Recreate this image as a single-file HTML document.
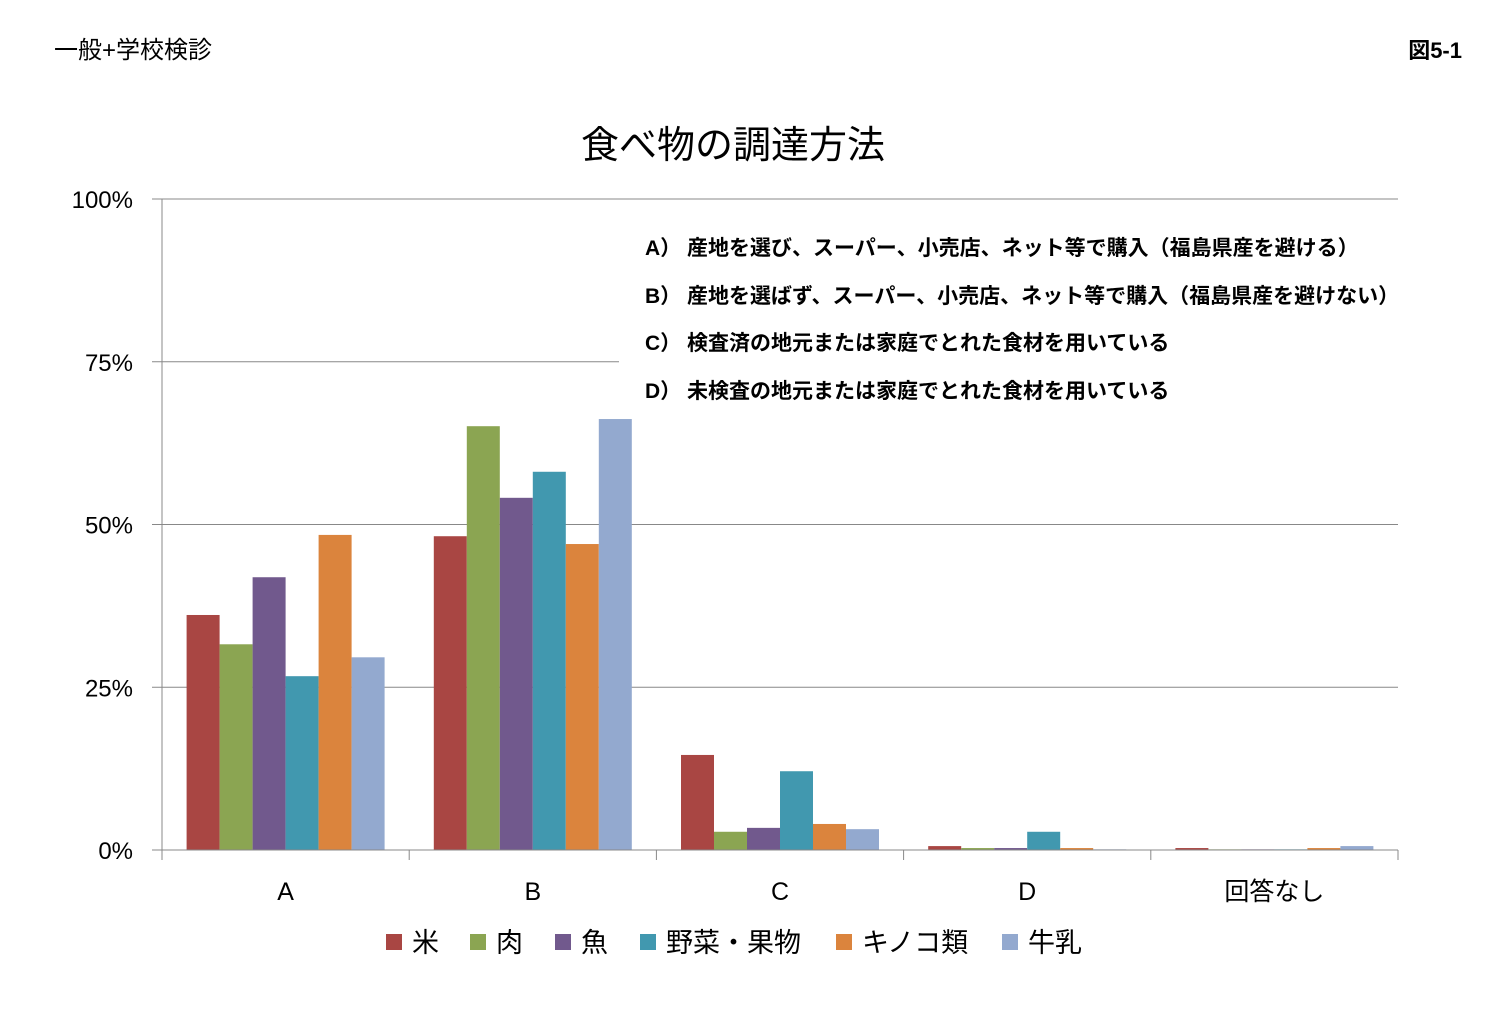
<!DOCTYPE html>
<html><head><meta charset="utf-8"><style>
body{margin:0;background:#fff;width:1512px;height:1008px;overflow:hidden;font-family:"Liberation Sans","Noto Sans CJK JP",sans-serif}
</style></head><body>
<svg width="1512" height="1008" xmlns="http://www.w3.org/2000/svg" font-family="Liberation Sans, Noto Sans CJK JP, sans-serif">
<text x="54" y="58" font-size="24" fill="#000">一般+学校検診</text>
<text x="1462" y="58" font-size="22" font-weight="bold" text-anchor="end">図5-1</text>
<text x="733" y="158" font-size="38" text-anchor="middle">食べ物の調達方法</text>
<g id="grid"></g><g id="bars"></g><g id="axes"></g>
<rect x="619" y="222" width="780" height="185" fill="#fff"/>
<g font-size="21" font-weight="bold">
<text x="645" y="255">A） 産地を選び、スーパー、小売店、ネット等で購入（福島県産を避ける）</text>
<text x="645" y="303">B） 産地を選ばず、スーパー、小売店、ネット等で購入（福島県産を避けない）</text>
<text x="645" y="350">C） 検査済の地元または家庭でとれた食材を用いている</text>
<text x="645" y="398">D） 未検査の地元または家庭でとれた食材を用いている</text>
</g>
<g id="legend"></g>
</svg>
<script>
const categories=["A","B","C","D","回答なし"];
const seriesNames=["米","肉","魚","野菜・果物","キノコ類","牛乳"];
const rice=[36.1,48.2,14.6,0.6,0.3];
const meat=[31.6,65.1,2.8,0.3,0.1];
const fish=[41.9,54.1,3.4,0.3,0.1];
const veg=[26.7,58.1,12.1,2.8,0.1];
const mush=[48.4,47.0,4.0,0.3,0.3];
const milk=[29.6,66.2,3.2,0.1,0.6];
const tickLabels=["0%","25%","50%","75%","100%"];
const tickValues=[0,25,50,75,100];
const series=[rice,meat,fish,veg,mush,milk];
const colors=["#A94643","#8BA552","#71598D","#4198AF","#DB843D","#93A9CF"];
const NS="http://www.w3.org/2000/svg";
const x0=162,x1=1398,y0=850,y1=199;
const y=v=>y0-(v/100)*(y0-y1);
const cw=(x1-x0)/categories.length;
function mk(t,a,p){const e=document.createElementNS(NS,t);for(const k in a)e.setAttribute(k,a[k]);p.appendChild(e);return e;}
const G=document.getElementById('grid'),B=document.getElementById('bars'),A=document.getElementById('axes'),L=document.getElementById('legend');
tickValues.forEach((v,i)=>{
 if(v>0){const g=mk('line',{x1:x0,x2:x1,y1:y(v),y2:y(v),stroke:'#888','stroke-width':1},G);
 
 }
 const t=mk('text',{x:133,y:y(v)+9,'font-size':24,'text-anchor':'end'},A);t.textContent=tickLabels[i];
 
 
 mk('line',{x1:152,x2:x0,y1:y(v),y2:y(v),stroke:'#888'},A);
});
mk('line',{x1:x0,x2:x0,y1:y1,y2:y0,stroke:'#888'},A);
mk('line',{x1:x0,x2:x1,y1:y0,y2:y0,stroke:'#888'},A);
const bw=33;
categories.forEach((c,ci)=>{
 const cx=x0+ci*cw;
 mk('line',{x1:cx,x2:cx,y1:y0,y2:y0+10,stroke:'#888'},A);
 const t=mk('text',{x:cx+cw/2,y:y0+50,'font-size':25,'text-anchor':'middle'},A);t.textContent=c;
 
 
 const start=cx+(cw-bw*series.length)/2;
 series.forEach((s,si)=>{
  const r=mk('rect',{x:start+si*bw,y:y(s[ci]),width:bw,height:y0-y(s[ci]),fill:colors[si]},B);
  
  
 });
});
mk('line',{x1:x1,x2:x1,y1:y0,y2:y0+10,stroke:'#888'},A);
const lx=[386,470,555,640,836,1002];
seriesNames.forEach((n,i)=>{
 const g=mk('g',{},L);
 
 
 mk('rect',{x:lx[i],y:934,width:16,height:16,fill:colors[i]},g);
 const t=mk('text',{x:lx[i]+26,y:952,'font-size':27},g);t.textContent=n;
});
</script>
</body></html>
